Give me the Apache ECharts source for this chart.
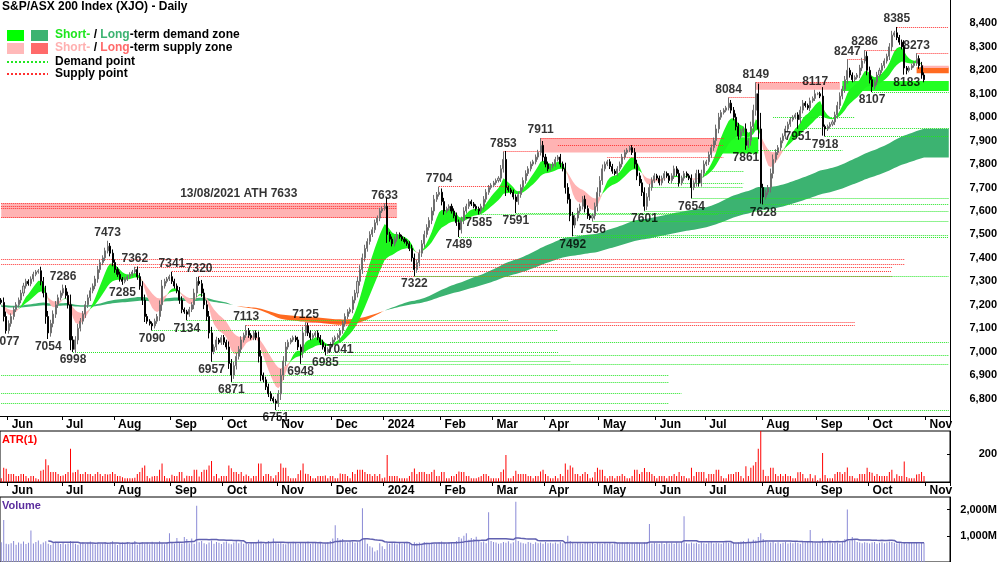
<!DOCTYPE html>
<html><head><meta charset="utf-8">
<script src="https://cdn.jsdelivr.net/npm/echarts@6/dist/echarts.min.js"></script>
<style>html,body{margin:0;padding:0;background:#fff}#c{width:1000px;height:562px}</style>
</head><body><div id="c"></div>
<script>
// ---------- DATA ----------
const closes = [
7210,7150,7090,7120,7150,7180,7200,7220,7250,7280,
7300,7290,7310,7330,7340,7345,7300,7250,7150,7080,
7120,7160,7200,7230,7250,7270,7240,7200,7050,7010,
7050,7100,7130,7160,7200,7230,7260,7280,7310,7350,
7380,7400,7430,7450,7420,7380,7350,7330,7310,7300,
7310,7320,7330,7340,7350,7320,7280,7220,7150,7130,
7120,7110,7130,7150,7200,7280,7300,7310,7320,7300,
7280,7260,7220,7180,7170,7160,7180,7200,7250,7300,
7290,7250,7200,7150,7080,7000,7020,7050,7040,7060,
7040,7020,6950,6900,6940,6980,7010,7050,7070,7090,
7070,7060,7080,7060,6980,6900,6880,6850,6820,6800,
6790,6780,6820,6900,6960,7020,7040,7050,7060,7050,
7020,7000,7080,7110,7080,7060,7070,7080,7060,7040,
7020,7000,7010,7030,7050,7060,7070,7090,7120,7150,
7170,7180,7220,7250,7300,7350,7400,7440,7470,7500,
7520,7550,7570,7600,7610,7620,7500,7480,7460,7480,
7500,7490,7480,7470,7460,7440,7400,7350,7380,7420,
7460,7500,7530,7560,7600,7650,7670,7680,7640,7600,
7610,7620,7600,7580,7550,7520,7560,7600,7620,7640,
7630,7620,7610,7600,7620,7650,7680,7700,7710,7720,
7730,7740,7780,7820,7700,7690,7680,7660,7640,7670,
7700,7730,7760,7780,7800,7810,7830,7850,7880,7830,
7800,7780,7790,7800,7820,7830,7800,7780,7700,7650,
7580,7540,7570,7600,7620,7650,7610,7580,7570,7580,
7620,7680,7730,7780,7800,7810,7790,7770,7760,7780,
7800,7830,7850,7860,7870,7850,7800,7750,7720,7680,
7620,7660,7700,7730,7750,7740,7720,7740,7760,7750,
7730,7750,7780,7760,7720,7740,7760,7750,7740,7700,
7720,7760,7720,7760,7800,7810,7840,7870,7900,7950,
8000,8020,8030,8040,8060,8030,8000,7960,7920,7940,
7950,7880,7900,7960,8030,8100,7950,7700,7660,7680,
7700,7760,7820,7850,7870,7900,7920,7950,7970,7990,
8000,8010,7990,8030,8060,8050,8040,8070,8080,8100,
8100,8090,7960,7950,7960,7970,7980,8010,8050,8090,
8120,8160,8200,8180,8160,8170,8180,8210,8240,8260,
8200,8160,8130,8150,8180,8200,8220,8240,8260,8300,
8350,8360,8340,8320,8300,8210,8200,8210,8220,8230,
8250,8220,8180,8160];
const firstOpen = 7220;
// volume in units of 10M shares
const volume10M = [
75,160,70,68,72,80,66,74,70,78,69,73,120,71,76,82,68,74,79,70,65,72,77,73,69,
74,68,71,80,77,70,66,72,75,69,73,78,71,67,74,70,72,76,68,73,79,70,65,72,74,
70,76,69,73,80,66,72,75,71,74,68,77,70,73,79,72,68,75,110,74,70,92,76,71,95,
88,72,90,70,215,75,80,72,68,74,82,70,76,73,69,75,78,71,68,74,80,72,77,70,73,
69,76,72,74,85,78,70,73,80,72,90,76,71,74,70,68,75,72,77,73,70,76,72,74,78,
70,73,76,71,74,68,72,75,80,90,140,92,85,88,76,74,80,78,73,75,82,205,88,70,60,
55,40,45,72,60,50,74,70,76,72,68,74,70,73,77,71,69,75,72,74,70,76,73,71,74,
70,72,75,78,73,70,76,74,72,80,95,90,100,110,85,92,88,96,80,75,78,72,190,80,76,
74,70,72,76,73,79,71,75,230,80,74,72,70,76,73,69,75,72,74,70,76,72,73,71,74,
70,76,72,74,100,80,73,71,75,72,70,74,76,71,73,69,75,72,70,74,71,73,68,75,72,
70,74,72,76,69,73,71,75,72,70,74,76,145,71,73,72,70,74,69,75,71,73,70,74,72,
76,175,72,70,74,71,73,69,75,72,70,74,76,71,73,72,70,74,76,73,75,72,71,74,78,
80,74,90,76,85,82,95,110,88,80,76,74,78,72,75,70,73,76,71,74,72,75,73,70,76,
74,80,122,76,73,72,78,90,80,74,76,72,75,73,70,76,88,200,80,95,85,76,74,72,75,
73,71,74,76,70,73,75,72,74,78,76,73,71,75,72,74,70,76,73,72,75,71,74,73];
const highLabels = [[25,7286],[43,7473],[54,7362],[69,7341],[80,7320],[99,7113],[123,7125],[155,7633],[177,7704],[203,7853],[218,7911],[294,8084],[305,8149],[329,8117],[342,8247],[349,8286],[362,8385],[370,8273]];
const lowLabels = [[2,7077],[19,7054],[29,6998],[49,7285],[61,7090],[75,7134],[85,6957],[93,6871],[111,6751],[121,6948],[131,6985],[137,7041],[167,7322],[185,7489],[193,7585],[208,7591],[231,7492],[239,7556],[260,7601],[279,7654],[301,7861],[308,7628],[322,7951],[333,7918],[352,8107],[366,8183]];
const athNote = [96, 7633, '13/08/2021 ATH 7633'];
// [startIdx, endIdx, level]
const demandLines = [[0,270,6898],[0,275,6822],[0,270,6780],[29,225,6998],[61,225,7090],[75,205,7134],[85,230,6957],[93,270,6871],[111,383,6751],[121,383,6948],[131,383,6985],[137,383,7041],[167,383,7322],[185,383,7489],[231,383,7496],[239,383,7556],[193,290,7585],[208,300,7591],[260,383,7601],[308,383,7628],[279,383,7654],[262,300,7700],[270,300,7720],[285,300,7770],[301,340,7861],[322,383,7951],[333,383,7918],[312,345,8000],[352,383,8107]];
const supplyLines = [[0,365,7393],[0,365,7372],[54,360,7362],[69,360,7341],[80,360,7320],[99,345,7113],[123,345,7125],[43,395,7473],[0,160,7633],[0,160,7622],[0,160,7610],[0,160,7572],[177,205,7704],[203,218,7853],[218,292,7911],[225,292,7880],[245,292,7830],[294,305,8084],[305,339,8149],[342,349,8247],[349,362,8286],[362,383,8385],[370,383,8273]];
// [startIdx, endIdx, low, high]
const supplyZones = [[0,160,7570,7633],[218,292,7850,7911],[305,339,8117,8149]];
const demandZones = [[291,306,7845,7915],[340,383,8112,8155]];
const orangeZones = [[370,383,8188,8213]];
const monthNames = ['Jan','Feb','Mar','Apr','May','Jun','Jul','Aug','Sep','Oct','Nov','Dec'];

// ---------- BUILD ----------
const NCAT = 384;
const dates = [];
{ let d = new Date(Date.UTC(2023,4,29));
  while (dates.length < NCAT) { const w=d.getUTCDay(); if (w!==0&&w!==6) dates.push(d.toISOString().slice(0,10)); d = new Date(d.getTime()+86400000); } }
const N = closes.length;
const O=[],H=[],L=[];
for (let i=0;i<N;i++){ const o=i?closes[i-1]:firstOpen, c=closes[i]; const w=6+0.25*Math.abs(c-o);
  O.push(o); H.push(Math.max(o,c)+w); L.push(Math.min(o,c)-w); }
highLabels.forEach(([i,v])=>{H[i]=v;});
lowLabels.forEach(([i,v])=>{L[i]=v;});
const candle = closes.map((c,i)=>[O[i],c,L[i],H[i]]);
const atr = closes.map((c,i)=>{ const pc=i?closes[i-1]:firstOpen; return Math.max(H[i]-L[i],Math.abs(H[i]-pc),Math.abs(L[i]-pc)); });
const vol = volume10M.map(v=>v*10);
const volMA = vol.map((v,i)=>{ if(i<19) return null; let s=0; for(let k=i-19;k<=i;k++) s+=vol[k]; return s/20; });
function ema(n, seed){ const a=[]; let e=seed; const k=2/(n+1); for(let i=0;i<NCAT;i++){ if(i<N) e=closes[i]*k+e*(1-k); a.push(e);} return a; }
const sF=ema(8,7200), sS=ema(21,7200), lF=ema(150,7200), lS=ema(230,7190);
const sBase=[],sUp=[],sDn=[],lBase=[],lUp=[],lDn=[];
for(let i=0;i<NCAT;i++){
  sBase.push(Math.min(sF[i],sS[i])); const ds=Math.abs(sF[i]-sS[i]);
  sUp.push(sF[i]>=sS[i]?ds:0); sDn.push(sF[i]<sS[i]?ds:0);
  lBase.push(Math.min(lF[i],lS[i])); const dl=Math.abs(lF[i]-lS[i]);
  lUp.push(lF[i]>=lS[i]?dl:0); lDn.push(lF[i]<lS[i]?dl:0);
}
const isFirst = i => i>0 && dates[i].slice(5,7)!==dates[i-1].slice(5,7);
const fmtMonth = v => { const m=+v.slice(5,7); return m===1? v.slice(0,4) : monthNames[m-1]; };
const lineData = (arr)=>arr.map(([a,b,v])=>[{coord:[dates[a],v]},{coord:[dates[b],v]}]);
const areaData = (arr)=>arr.map(([a,b,lo,hi])=>[{coord:[dates[a],hi]},{coord:[dates[b],lo]}]);

const F = 'Arial, "Liberation Sans", sans-serif';
const xBase = (gi, showLabel)=>({type:'category',gridIndex:gi,data:dates,boundaryGap:true,
  axisLine:{show:showLabel,lineStyle:{color:'#000'}},
  axisTick:{show:showLabel,interval:(i)=>isFirst(i),length:4,lineStyle:{color:'#000'}},
  axisLabel:{show:showLabel,interval:(i)=>isFirst(i),formatter:fmtMonth,color:'#000',fontWeight:'bold',fontSize:12,fontFamily:F,align:'left',margin:3,padding:[0,0,0,3]},
  splitLine:{show:false}});
const chart = echarts.init(document.getElementById('c'));
const mk = (name, stack, data, color)=>({type:'line',name,xAxisIndex:0,yAxisIndex:0,stack,data,symbol:'none',silent:true,
  lineStyle:{width:0},areaStyle:color?{color,opacity:1}:undefined,z:2});
chart.setOption({
  animation:false,
  grid:[{left:0,width:950,top:-5,height:427},{left:0,width:950,top:431,height:51,show:true,borderColor:'#000',borderWidth:1},{left:0,width:950,top:497,bottom:-8,show:true,borderColor:'#000',borderWidth:1}],
  xAxis:[Object.assign(xBase(0,true),{offset:-6}), xBase(1,true), Object.assign(xBase(2,false),{axisLine:{show:false}})],
  yAxis:[
    {type:'value',gridIndex:0,position:'right',min:6700,max:8500,interval:100,splitLine:{show:false},axisLine:{show:true,lineStyle:{color:'#000'}},axisTick:{show:false},
      axisLabel:{showMinLabel:false,showMaxLabel:false,margin:47,align:'right',fontWeight:'bold',fontSize:11,fontFamily:F,color:'#000',formatter:v=>v.toLocaleString('en-US')}},
    {type:'value',gridIndex:1,position:'right',min:0,max:364,interval:200,splitLine:{show:false},axisLine:{show:true,lineStyle:{color:'#000'}},axisTick:{show:true,inside:true,length:3},
      axisLabel:{showMinLabel:false,showMaxLabel:false,margin:47,align:'right',fontWeight:'bold',fontSize:11,fontFamily:F,color:'#000',formatter:v=>v===200?'200':''}},
    {type:'value',gridIndex:2,position:'right',min:0,max:2480,interval:1000,splitLine:{show:false},axisLine:{show:true,lineStyle:{color:'#000'}},axisTick:{show:true,inside:true,length:3},
      axisLabel:{showMinLabel:false,showMaxLabel:false,margin:47,align:'right',fontWeight:'bold',fontSize:11,fontFamily:F,color:'#000',formatter:v=>(v===1000||v===2000)?(v.toLocaleString('en-US')+'M'):''}}
  ],
  series:[
    {type:'line',xAxisIndex:0,yAxisIndex:0,data:[],silent:true,
      markArea:{silent:true,itemStyle:{color:'#ffb3b3'},data:areaData(supplyZones)},
      markLine:{silent:true,symbol:['none','none'],label:{show:false},lineStyle:{color:'#ff3030',type:'dotted',width:1},data:lineData(supplyLines)},z:1},
    {type:'line',xAxisIndex:0,yAxisIndex:0,data:[],silent:true,
      markArea:{silent:true,itemStyle:{color:'#22ff22'},data:areaData(demandZones)},
      markLine:{silent:true,symbol:['none','none'],label:{show:false},lineStyle:{color:'#22e622',type:'dotted',width:1},data:lineData(demandLines)},z:1},
    {type:'line',xAxisIndex:0,yAxisIndex:0,data:[],silent:true,
      markArea:{silent:true,itemStyle:{color:'#ff6a20'},data:areaData(orangeZones)},z:1},
    mk('lb','L',lBase,null), mk('lu','L',lUp,'#3cb371'), mk('ld','L',lDn,'#ff6a20'),
    mk('sb','S',sBase,null), mk('su','S',sUp,'#1ef51e'), mk('sd','S',sDn,'#ffb3b3'),
    {type:'candlestick',xAxisIndex:0,yAxisIndex:0,data:candle,barWidth:'62%',z:5,
      itemStyle:{color:'#d4d4d4',borderColor:'#6e6e6e',color0:'#000',borderColor0:'#000',borderWidth:1}},
    {type:'scatter',xAxisIndex:0,yAxisIndex:0,symbolSize:0,z:6,data:highLabels.map(([i,v])=>[dates[i],v]),
      label:{show:true,position:'top',distance:2,formatter:p=>p.value[1],fontWeight:'bold',fontSize:12,fontFamily:F,color:'#000'}},
    {type:'scatter',xAxisIndex:0,yAxisIndex:0,symbolSize:0,z:6,data:lowLabels.map(([i,v])=>[dates[i],v]),
      label:{show:true,position:'bottom',distance:2,formatter:p=>p.value[1],fontWeight:'bold',fontSize:12,fontFamily:F,color:'#000'}},
    {type:'scatter',xAxisIndex:0,yAxisIndex:0,symbolSize:0,z:6,data:[[dates[athNote[0]],athNote[1]]],
      label:{show:true,position:'top',distance:4,formatter:athNote[2],fontWeight:'bold',fontSize:12,fontFamily:F,color:'#000'}},
    {type:'bar',xAxisIndex:1,yAxisIndex:1,data:atr,barWidth:1,itemStyle:{color:'#ff0000'}},
    {type:'bar',xAxisIndex:2,yAxisIndex:2,data:vol,barWidth:1,itemStyle:{color:'#8a8ad6'}},
    {type:'line',xAxisIndex:2,yAxisIndex:2,data:volMA,symbol:'none',lineStyle:{color:'#6060b0',width:1.5}}
  ],
  graphic:[
    {type:'text',left:2,top:1,style:{text:'S&P/ASX 200 Index (XJO) - Daily',font:'bold 12px '+F,fill:'#000'}},
    {type:'rect',shape:{x:7,y:30,width:17,height:11},style:{fill:'#00ff00'}},
    {type:'rect',shape:{x:31,y:30,width:17,height:11},style:{fill:'#3cb371'}},
    {type:'text',left:55,top:29,style:{rich:{a:{fill:'#1ee61e',font:'bold 12px '+F},b:{fill:'#3cb371',font:'bold 12px '+F},k:{fill:'#000',font:'bold 12px '+F}},text:'{a|Short-}{k| / }{b|Long}{k|-term demand zone}'}},
    {type:'rect',shape:{x:7,y:43,width:17,height:11},style:{fill:'#ffb9b9'}},
    {type:'rect',shape:{x:31,y:43,width:17,height:11},style:{fill:'#ff6a6a'}},
    {type:'text',left:55,top:42,style:{rich:{a:{fill:'#ffb0b0',font:'bold 12px '+F},b:{fill:'#ff6a6a',font:'bold 12px '+F},k:{fill:'#000',font:'bold 12px '+F}},text:'{a|Short-}{k| / }{b|Long}{k|-term supply zone}'}},
    {type:'line',shape:{x1:7,y1:62,x2:48,y2:62},style:{stroke:'#22e622',lineWidth:2,lineDash:[2,2]}},
    {type:'text',left:55,top:56,style:{text:'Demand point',font:'bold 12px '+F,fill:'#000'}},
    {type:'line',shape:{x1:7,y1:74,x2:48,y2:74},style:{stroke:'#ff3030',lineWidth:2,lineDash:[2,2]}},
    {type:'text',left:55,top:68,style:{text:'Supply point',font:'bold 12px '+F,fill:'#000'}},
    {type:'text',left:2,top:434,style:{text:'ATR(1)',font:'bold 11px '+F,fill:'#ff0000'}},
    {type:'text',left:2,top:500,style:{text:'Volume',font:'bold 11px '+F,fill:'#5b2d9e'}}
  ]
});
</script></body></html>
